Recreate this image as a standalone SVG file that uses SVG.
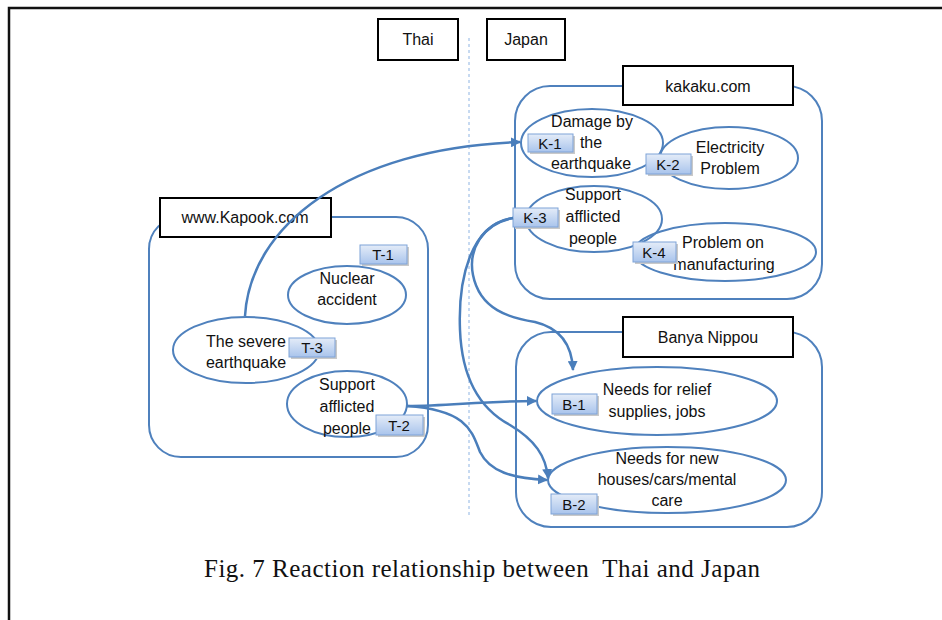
<svg xmlns="http://www.w3.org/2000/svg" width="942" height="620" viewBox="0 0 942 620">
  <defs>
    <linearGradient id="tagFill" x1="0" y1="0" x2="0" y2="1">
      <stop offset="0" stop-color="#e4ecf8"/>
      <stop offset="1" stop-color="#a9c4ec"/>
    </linearGradient>
    <marker id="arrow" viewBox="0 0 10 10" refX="9" refY="5" markerWidth="4" markerHeight="4" orient="auto" markerUnits="strokeWidth">
      <path d="M0,0 L10,5 L0,10 Z" fill="#4a7ebb"/>
    </marker>
    <style>
      .frame { fill: none; stroke: #111; stroke-width: 2.5; }
      .panel { fill: none; stroke: #4f81bd; stroke-width: 2; }
      .label { fill: #fff; stroke: #000; stroke-width: 2; }
      .oval { fill: none; stroke: #4f81bd; stroke-width: 2; }
      .tag { fill: url(#tagFill); stroke: #7ea3d8; stroke-width: 1; }
      .tagshadow { fill: #c9c9c9; }
      .link { fill: none; stroke: #4a7ebb; stroke-width: 2.5; marker-end: url(#arrow); }
      text { font-family: "Liberation Sans", Arial, sans-serif; font-size: 16px; fill: #111; text-anchor: middle; }
      .tagtext { font-size: 15px; }
      .caption { font-family: "Liberation Serif", "Times New Roman", serif; font-size: 25px; white-space: pre; }
    </style>
  </defs>

  <!-- page frame -->
  <path class="frame" d="M9,620 V8 H942"/>

  <!-- country headings and divider -->
  <g id="thai-heading">
    <rect class="label" x="378" y="19" width="80" height="41"/>
    <text x="418" y="45">Thai</text>
  </g>
  <g id="japan-heading">
    <rect class="label" x="487" y="19" width="78" height="41"/>
    <text x="526" y="45">Japan</text>
  </g>
  <line x1="469" y1="38" x2="469" y2="515" stroke="#8eb4e3" stroke-width="1" stroke-dasharray="3,3"/>

  <!-- Kapook panel -->
  <g id="kapook">
    <rect class="panel" x="149" y="217" width="279" height="240" rx="32"/>
    <rect class="label" x="160" y="198" width="171" height="39"/>
    <text x="245" y="223">www.Kapook.com</text>
  </g>
  <g id="T-1">
    <ellipse class="oval" cx="347" cy="295" rx="59" ry="29"/>
    <text x="347" y="284">Nuclear</text>
    <text x="347" y="305">accident</text>
    <rect class="tagshadow" x="362" y="247" width="47" height="19"/>
    <rect class="tag" x="360" y="245" width="47" height="19"/>
    <text class="tagtext" x="383" y="260">T-1</text>
  </g>
  <g id="T-3">
    <ellipse class="oval" cx="246" cy="350" rx="73" ry="33"/>
    <text x="246" y="347">The severe</text>
    <text x="246" y="368">earthquake</text>
    <rect class="tagshadow" x="291" y="340" width="46" height="19"/>
    <rect class="tag" x="289" y="338" width="46" height="19"/>
    <text class="tagtext" x="312" y="353">T-3</text>
  </g>
  <g id="T-2">
    <ellipse class="oval" cx="347" cy="404" rx="60" ry="33"/>
    <text x="347" y="390">Support</text>
    <text x="347" y="412">afflicted</text>
    <text x="347" y="434">people</text>
    <rect class="tagshadow" x="378" y="417" width="47" height="20"/>
    <rect class="tag" x="376" y="415" width="47" height="20"/>
    <text class="tagtext" x="399" y="431">T-2</text>
  </g>

  <!-- kakaku panel -->
  <g id="kakaku">
    <rect class="panel" x="515" y="86" width="307" height="213" rx="35"/>
    <rect class="label" x="623" y="66" width="170" height="39"/>
    <text x="708" y="92">kakaku.com</text>
  </g>
  <g id="K-1">
    <ellipse class="oval" cx="592" cy="143" rx="71" ry="34"/>
    <text x="592" y="127">Damage by</text>
    <text x="591" y="148">the</text>
    <text x="591" y="169">earthquake</text>
    <rect class="tagshadow" x="530" y="136" width="45" height="18"/>
    <rect class="tag" x="528" y="134" width="45" height="18"/>
    <text class="tagtext" x="550" y="149">K-1</text>
  </g>
  <g id="K-2">
    <ellipse class="oval" cx="729" cy="158" rx="69" ry="31"/>
    <text x="730" y="153">Electricity</text>
    <text x="730" y="174">Problem</text>
    <rect class="tagshadow" x="648" y="156" width="45" height="20"/>
    <rect class="tag" x="646" y="154" width="45" height="20"/>
    <text class="tagtext" x="668" y="170">K-2</text>
  </g>
  <g id="K-3">
    <ellipse class="oval" cx="594" cy="219" rx="68" ry="33"/>
    <text x="593" y="200">Support</text>
    <text x="593" y="222">afflicted</text>
    <text x="593" y="244">people</text>
    <rect class="tagshadow" x="515" y="210" width="45" height="19"/>
    <rect class="tag" x="513" y="208" width="45" height="19"/>
    <text class="tagtext" x="535" y="223">K-3</text>
  </g>
  <g id="K-4">
    <ellipse class="oval" cx="725" cy="252" rx="91" ry="29"/>
    <text x="723" y="248">Problem on</text>
    <text x="724" y="270">manufacturing</text>
    <rect class="tagshadow" x="635" y="244" width="43" height="20"/>
    <rect class="tag" x="633" y="242" width="43" height="20"/>
    <text class="tagtext" x="654" y="258">K-4</text>
  </g>

  <!-- Banya Nippou panel -->
  <g id="banya">
    <rect class="panel" x="516" y="332" width="306" height="195" rx="35"/>
    <rect class="label" x="623" y="317" width="170" height="40"/>
    <text x="708" y="343">Banya Nippou</text>
  </g>
  <g id="B-1">
    <ellipse class="oval" cx="657" cy="401" rx="120" ry="34"/>
    <text x="657" y="395">Needs for relief</text>
    <text x="657" y="417">supplies, jobs</text>
    <rect class="tagshadow" x="554" y="396" width="45" height="20"/>
    <rect class="tag" x="552" y="394" width="45" height="20"/>
    <text class="tagtext" x="574" y="410">B-1</text>
  </g>
  <g id="B-2">
    <ellipse class="oval" cx="667" cy="480" rx="119" ry="33"/>
    <text x="667" y="464">Needs for new</text>
    <text x="667" y="485">houses/cars/mental</text>
    <text x="667" y="506">care</text>
    <rect class="tagshadow" x="553" y="496" width="46" height="20"/>
    <rect class="tag" x="551" y="494" width="46" height="20"/>
    <text class="tagtext" x="574" y="510">B-2</text>
  </g>

  <!-- reaction links -->
  <g id="connectors">
    <path class="link" d="M245,316 C250,228 345,148 520,142"/>
    <path class="link" d="M407,406 C450,406 480,401 536,401"/>
    <path class="link" d="M407,406 C468,410 472,432 480,452 C490,472 512,478 547,480"/>
    <path class="link" d="M513,218 C482,224 468,250 473,275 C480,310 510,318 535,322 C560,328 572,345 573,370"/>
    <path class="link" d="M513,218 C470,224 458,280 460,330 C462,382 482,410 510,425 C535,440 546,456 548,478"/>
  </g>

  <text class="caption" x="482" y="577" textLength="556" lengthAdjust="spacing">Fig. 7 Reaction relationship between  Thai and Japan</text>
</svg>
